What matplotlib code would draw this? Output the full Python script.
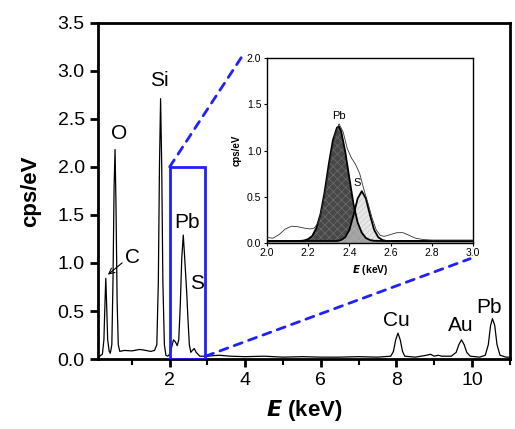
import matplotlib
matplotlib.use("Agg")
import matplotlib.pyplot as plt
from matplotlib.patches import Rectangle, ConnectionPatch
from matplotlib.ticker import MultipleLocator, FormatStrFormatter

plt.rcParams['font.family'] = ['Liberation Sans', 'DejaVu Sans']
plt.rcParams['hatch.linewidth'] = 0.5

# EDS spectrum (main panel)
energy = [0.12, 0.18, 0.22, 0.26, 0.29, 0.31, 0.33, 0.36, 0.40, 0.43, 0.47, 0.50,
          0.53, 0.555, 0.58, 0.61, 0.64, 0.68, 0.80, 1.00, 1.20, 1.30, 1.50, 1.60,
          1.66, 1.70, 1.73, 1.76, 1.79, 1.82, 1.86, 1.90, 1.95, 2.00, 2.05, 2.10,
          2.15, 2.20, 2.24, 2.28, 2.32, 2.36, 2.39, 2.42, 2.45, 2.48, 2.52, 2.56,
          2.60, 2.65, 2.70, 2.80, 3.00, 3.30, 3.60, 4.00, 4.50, 5.00, 5.50, 6.00,
          6.50, 7.00, 7.50, 7.85, 7.92, 7.98, 8.04, 8.10, 8.16, 8.22, 8.50, 8.80,
          8.90, 9.00, 9.10, 9.20, 9.45, 9.58, 9.65, 9.72, 9.79, 9.86, 9.95, 10.20,
          10.35, 10.43, 10.49, 10.54, 10.60, 10.66, 10.74, 10.90, 11.00]
counts = [0.02, 0.04, 0.05, 0.20, 0.60, 0.84, 0.60, 0.20, 0.08, 0.06, 0.15, 0.80,
          1.80, 2.18, 1.60, 0.60, 0.15, 0.08, 0.09, 0.085, 0.10, 0.095, 0.08, 0.09,
          0.15, 0.80, 2.00, 2.71, 2.00, 0.80, 0.15, 0.04, 0.03, 0.05, 0.12, 0.20,
          0.18, 0.14, 0.20, 0.55, 1.05, 1.29, 1.10, 0.90, 0.70, 0.45, 0.15, 0.07,
          0.09, 0.11, 0.07, 0.03, 0.03, 0.04, 0.03, 0.025, 0.03, 0.02, 0.025, 0.02,
          0.02, 0.025, 0.02, 0.03, 0.08, 0.20, 0.27, 0.20, 0.08, 0.03, 0.02, 0.04,
          0.05, 0.03, 0.04, 0.03, 0.03, 0.07, 0.15, 0.20, 0.15, 0.07, 0.03, 0.02,
          0.04, 0.15, 0.35, 0.42, 0.35, 0.15, 0.04, 0.02, 0.02]

# zoomed region 2.0-3.0 keV
zoom_e = [2.00, 2.03, 2.06, 2.09, 2.12, 2.15, 2.18, 2.21, 2.23, 2.25, 2.27, 2.29,
          2.31, 2.33, 2.35, 2.37, 2.39, 2.41, 2.43, 2.45, 2.47, 2.49, 2.51, 2.53,
          2.55, 2.57, 2.60, 2.63, 2.66, 2.69, 2.72, 2.76, 2.80, 2.90, 3.00]
zoom_c = [0.058, 0.05, 0.09, 0.15, 0.18, 0.175, 0.16, 0.15, 0.16, 0.22, 0.40, 0.65,
          0.93, 1.17, 1.29, 1.20, 1.02, 0.92, 0.85, 0.75, 0.58, 0.43, 0.27, 0.14,
          0.08, 0.07, 0.09, 0.11, 0.11, 0.08, 0.05, 0.035, 0.03, 0.03, 0.03]

pb_e = [2.00, 2.16, 2.18, 2.20, 2.22, 2.24, 2.26, 2.28, 2.30, 2.32, 2.34, 2.35,
        2.36, 2.38, 2.40, 2.42, 2.44, 2.46, 2.48, 2.50, 2.52, 2.55, 3.00]
pb_fit = [0.02, 0.02, 0.025, 0.04, 0.074, 0.16, 0.31, 0.55, 0.85, 1.11, 1.25, 1.26,
          1.21, 0.99, 0.70, 0.42, 0.22, 0.11, 0.052, 0.03, 0.022, 0.02, 0.02]

s_e = [2.00, 2.34, 2.36, 2.38, 2.40, 2.42, 2.44, 2.46, 2.48, 2.50, 2.52, 2.54,
       2.56, 2.58, 3.00]
s_fit = [0.02, 0.02, 0.03, 0.06, 0.14, 0.30, 0.48, 0.56, 0.48, 0.30, 0.14, 0.06,
         0.03, 0.02, 0.02]

peaks = ['C', 'O', 'Si', 'Pb', 'S', 'Cu', 'Au', 'Pb']
peak_x = [1.02, 0.65, 1.74, 2.47, 2.72, 8.0, 9.71, 10.45]
peak_y = [1.06, 2.35, 2.90, 1.42, 0.79, 0.40, 0.35, 0.54]

blue = '#1f1fff'

fig = plt.figure(figsize=(5.15, 4.29), dpi=100)
ax = fig.add_axes([0.19, 0.163, 0.800, 0.784])
ax.plot(energy, counts, color='black', lw=0.9)

for lab, px, py in zip(peaks, peak_x, peak_y):
    ax.text(px, py, lab, fontsize=15, ha='center', va='center')
ax.annotate('', xy=(0.31, 0.86), xytext=(0.80, 1.02),
            arrowprops=dict(arrowstyle='->', color='black', lw=0.8))

ax.add_patch(Rectangle((2.0, 0.0), 0.93, 2.0, fill=False, edgecolor=blue, lw=2, zorder=5))

ax.set_xlim(0.1, 11.0)
ax.set_ylim(0, 3.5)
ax.xaxis.set_major_locator(MultipleLocator(2))
ax.xaxis.set_minor_locator(MultipleLocator(1))
ax.yaxis.set_major_locator(MultipleLocator(0.5))
ax.yaxis.set_major_formatter(FormatStrFormatter('%.1f'))
ax.tick_params(which='major', direction='out', length=6, width=2, labelsize=14)
ax.tick_params(which='minor', direction='out', length=4, width=1.5)
for sp in ax.spines.values():
    sp.set_linewidth(2)
ax.set_ylabel('cps/eV', fontsize=16, fontweight='bold', labelpad=12)
ax.set_xlabel(r'$\bfit{E}$ (keV)', fontsize=16, fontweight='bold', labelpad=6)

# inset
axin = fig.add_axes([0.518, 0.434, 0.401, 0.430])
axin.fill_between(pb_e, 0, pb_fit, facecolor='#484848', edgecolor='#6e6e6e',
                  hatch='xxxx', lw=0, zorder=1)
axin.fill_between(s_e, 0, s_fit, facecolor='#d8d8d8', edgecolor='#b4b4b4',
                  hatch='//////', lw=0, alpha=0.6, zorder=2)
axin.plot(pb_e, pb_fit, color='black', lw=1.3, zorder=3)
axin.plot(s_e, s_fit, color='black', lw=1.3, zorder=3)
axin.plot(zoom_e, zoom_c, color='#333333', lw=0.6, zorder=4)
axin.text(2.35, 1.38, 'Pb', fontsize=8, ha='center', va='center')
axin.text(2.44, 0.65, 'S', fontsize=8, ha='center', va='center')
axin.set_xlim(2.0, 3.0)
axin.set_ylim(0, 2.0)
axin.xaxis.set_major_locator(MultipleLocator(0.2))
axin.yaxis.set_major_locator(MultipleLocator(0.5))
axin.xaxis.set_major_formatter(FormatStrFormatter('%.1f'))
axin.yaxis.set_major_formatter(FormatStrFormatter('%.1f'))
axin.tick_params(direction='out', length=2, width=0.8, labelsize=7.5, pad=2)
for sp in axin.spines.values():
    sp.set_linewidth(1)
axin.set_ylabel('cps/eV', fontsize=7, fontweight='bold', labelpad=4)
axin.set_xlabel(r'$\bfit{E}$ (keV)', fontsize=7.5, fontweight='bold', labelpad=3)

for xy_main, xy_in in [((2.0, 2.0), (-0.12, 1.01)), ((2.95, 0.03), (0.985, -0.086))]:
    con = ConnectionPatch(xyA=xy_main, coordsA=ax.transData,
                          xyB=xy_in, coordsB=axin.transAxes,
                          color=blue, lw=2, linestyle=(0, (3, 2.5)))
    fig.add_artist(con)

fig.savefig('out.png', dpi=100)
